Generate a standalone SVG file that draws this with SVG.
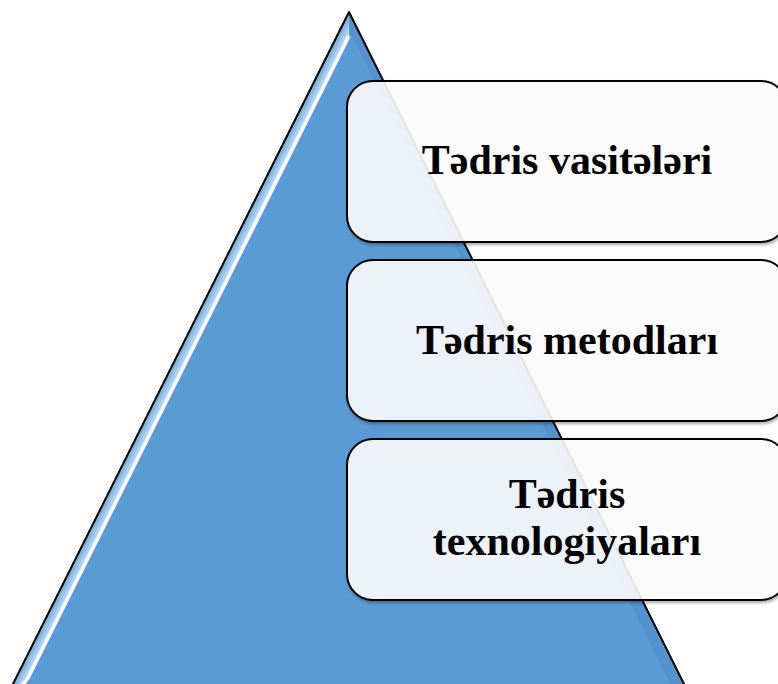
<svg xmlns="http://www.w3.org/2000/svg" width="778" height="684" viewBox="0 0 778 684">
  <style>
    .box { fill: #ffffff; fill-opacity: 0.87; stroke: #000000; stroke-width: 2; }
    .lbl { font-family: "Liberation Serif", "Times New Roman", serif; font-weight: bold; font-size: 42px; fill: #000000; text-anchor: middle; }
  </style>
  <defs>
    <linearGradient id="leftBevel" gradientUnits="userSpaceOnUse" x1="230" y1="250" x2="239.6" y2="254.8">
      <stop offset="0" stop-color="#6EA7DD"/>
      <stop offset="1" stop-color="#CFE5F9"/>
    </linearGradient>
    <filter id="shadow" x="-5%" y="-5%" width="110%" height="115%">
      <feDropShadow dx="1" dy="2" stdDeviation="1.5" flood-color="#000000" flood-opacity="0.35"/>
    </filter>
    <filter id="soft" x="-10%" y="-10%" width="120%" height="120%">
      <feGaussianBlur stdDeviation="0.6"/>
    </filter>
  </defs>

  <g id="pyramid">
    <polygon points="349,12 9,692 688,692" fill="#5B9BD5"/>
    <polygon points="349,12 9,692 27,680 349,36" fill="url(#leftBevel)"/>
    <polygon points="349,12 688,692 674,692 349,30" fill="#4F8DC8" opacity="0.6" filter="url(#soft)"/>
    <polyline points="349,36 28,678 20,688" fill="none" stroke="#ffffff" stroke-width="3.5" filter="url(#soft)"/>
    <polygon points="349,12 9,692 688,692" fill="none" stroke="#000000" stroke-width="2" stroke-linejoin="round"/>
  </g>

  <g id="node-vasiteleri">
    <rect class="box" x="347" y="81" width="440" height="161" rx="26" filter="url(#shadow)"/>
    <text class="lbl" x="567" y="174">Tədris vasitələri</text>
  </g>

  <g id="node-metodlari">
    <rect class="box" x="347" y="260" width="440" height="161" rx="26" filter="url(#shadow)"/>
    <text class="lbl" x="567" y="354">Tədris metodları</text>
  </g>

  <g id="node-texnologiyalari">
    <rect class="box" x="347" y="439" width="440" height="161" rx="26" filter="url(#shadow)"/>
    <text class="lbl" x="567" y="508">Tədris</text>
    <text class="lbl" x="567" y="555">texnologiyaları</text>
  </g>

  <g id="connectors"></g>
</svg>
